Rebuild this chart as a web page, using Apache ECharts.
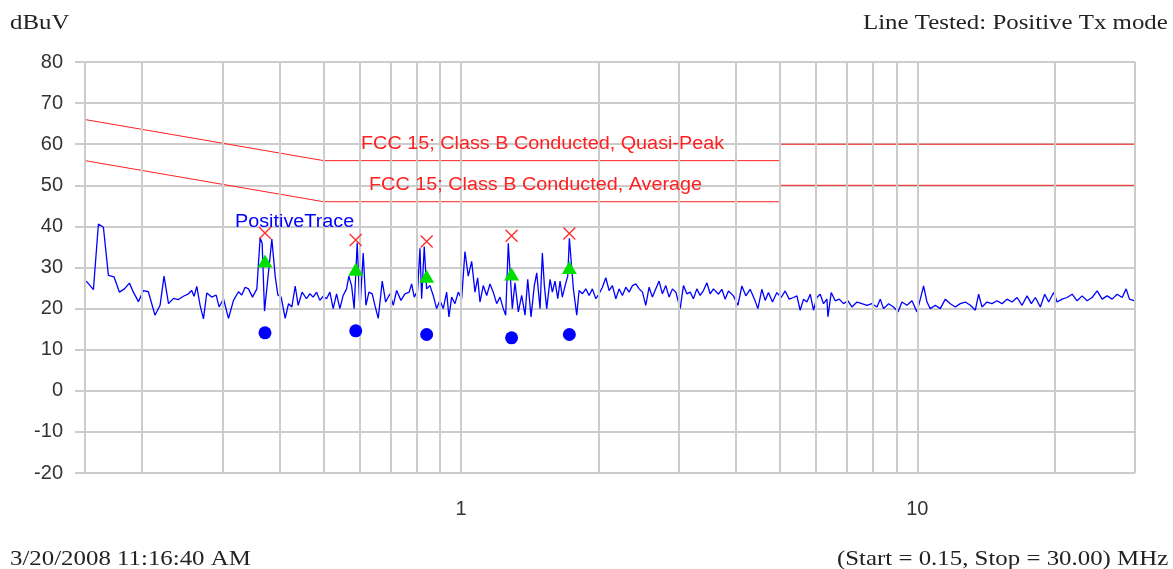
<!DOCTYPE html>
<html>
<head>
<meta charset="utf-8">
<script src="https://cdn.jsdelivr.net/npm/echarts@6/dist/echarts.min.js"></script>
<style>
  html, body { margin: 0; padding: 0; background: #fff; }
  #main { width: 1173px; height: 569px; }
</style>
</head>
<body>
<div id="main"></div>
<script>
// 扫描曲线 (MHz, dBuV)
var traceFreq = [0.151,0.1565,0.1605,0.1646,0.1688,0.1737,0.1785,0.183,0.1877,0.1915,0.1964,0.2014,0.2065,0.2135,0.2191,0.2235,0.2286,0.2344,0.2404,0.2465,0.2528,0.257,0.2601,0.2637,0.2681,0.2727,0.2773,0.2844,0.2907,0.2951,0.3017,0.3094,0.3173,0.3254,0.3309,0.3365,0.3423,0.3493,0.357,0.363,0.3667,0.3711,0.3851,0.3916,0.397,0.4036,0.4119,0.4189,0.4261,0.4332,0.4398,0.4487,0.4587,0.4665,0.4743,0.4826,0.4906,0.4989,0.5076,0.5161,0.5248,0.5338,0.5428,0.5519,0.5614,0.568,0.5758,0.5834,0.5924,0.6005,0.6106,0.6191,0.6285,0.6391,0.6478,0.6587,0.6722,0.6839,0.6989,0.7106,0.7228,0.7387,0.7538,0.7702,0.7796,0.79,0.8035,0.8131,0.8201,0.8309,0.8409,0.8551,0.8694,0.8844,0.8993,0.9146,0.9303,0.9412,0.9541,0.9701,0.9865,1.0035,1.0204,1.0375,1.0555,1.0732,1.088,1.1007,1.1191,1.1386,1.1577,1.1771,1.1975,1.2176,1.2382,1.2531,1.2697,1.2808,1.2957,1.3134,1.3357,1.3586,1.3817,1.4006,1.4241,1.4479,1.4657,1.4902,1.5078,1.5232,1.5415,1.5677,1.5859,1.6076,1.63,1.6489,1.668,1.6912,1.714,1.728,1.7428,1.7634,1.7937,1.815,1.845,1.8776,1.909,1.941,1.9748,2.0078,2.0417,2.0768,2.112,2.1473,2.1848,2.2213,2.2584,2.2978,2.3362,2.3758,2.4166,2.4576,2.4988,2.541,2.5841,2.6274,2.673,2.7178,2.7632,2.8114,2.8586,2.907,2.9571,3.0224,3.073,3.1261,3.1783,3.2316,3.2879,3.3429,3.3995,3.4581,3.5168,3.5756,3.6672,3.7297,3.7921,3.8564,3.9545,4.0439,4.1266,4.2102,4.3033,4.3975,4.474,4.5646,4.6416,4.7193,4.816,4.9237,5.0326,5.1345,5.2396,5.3543,5.4476,5.5387,5.6326,5.7295,5.8265,5.924,6.0256,6.1278,6.2304,6.3387,6.3709,6.4774,6.61,6.744,6.893,7.0469,7.1913,7.376,7.5634,7.7572,7.956,8.158,8.2964,8.4353,8.6515,8.8716,9.072,9.2556,9.493,9.7363,9.9842,10.153,10.323,10.502,10.678,10.953,11.23,11.519,11.814,12.115,12.425,12.742,13.069,13.403,13.627,13.862,14.215,14.579,14.952,15.335,15.728,16.13,16.543,16.966,17.4,17.783,18.146,18.609,19.02,19.408,19.904,20.25,20.766,21.298,21.843,22.401,22.974,23.562,24.164,24.782,25.416,26.066,26.73,27.415,28.117,28.69,29.17,29.96];
var traceLevel = [26.7,24.6,40.6,39.8,28.1,27.7,24.0,24.8,26.2,24.0,21.7,24.4,24.1,18.4,20.8,27.9,21.2,22.5,22.2,23.0,23.6,24.4,23.0,25.4,20.8,17.5,23.8,22.8,23.3,20.4,22.4,17.6,22.0,24.1,23.3,25.2,24.8,22.8,24.8,37.2,35.9,19.4,36.9,27.9,23.3,22.8,17.6,21.2,20.4,25.5,20.8,24.0,22.4,23.6,22.8,24.0,22.0,23.0,22.4,24.0,20.0,23.6,20.0,23.2,24.8,27.9,25.6,20.0,36.0,19.6,33.5,20.8,24.0,23.6,20.8,17.6,26.7,21.6,23.6,20.8,24.4,22.0,23.6,24.0,26.0,22.8,24.4,34.7,22.4,35.1,24.8,25.6,23.2,20.0,22.0,20.0,24.0,18.0,22.8,21.2,24.0,22.4,33.9,27.9,31.5,24.0,27.5,21.6,25.6,23.2,26.0,24.0,21.2,22.8,20.0,18.4,35.9,36.3,20.0,26.3,19.2,23.2,18.4,27.1,18.0,25.6,28.7,20.0,33.5,25.6,20.0,27.1,24.0,26.7,22.4,26.7,22.8,25.6,27.9,37.1,36.7,24.8,18.4,24.4,23.6,24.8,23.2,24.8,22.4,23.6,25.2,27.5,24.4,25.6,22.4,24.8,23.2,25.2,24.0,25.6,26.0,24.8,24.0,20.8,25.2,22.8,24.8,26.7,23.6,25.6,22.8,24.8,24.0,20.0,25.6,23.6,24.0,22.4,24.8,23.2,24.4,26.3,23.6,24.8,23.5,24.7,22.3,24.3,23.1,20.8,25.5,23.1,24.7,22.3,20.0,24.7,22.0,23.9,21.6,23.9,22.7,24.3,22.3,22.7,23.1,19.6,22.3,21.6,23.5,19.6,22.7,23.5,21.2,22.3,18.0,23.9,21.9,22.3,21.2,21.9,20.4,21.6,21.2,20.8,21.2,20.4,22.3,20.0,21.2,20.4,19.2,21.6,20.8,21.9,19.2,22.3,25.5,21.6,20.0,20.8,20.0,22.3,21.2,20.4,21.2,21.6,20.8,19.6,23.5,20.4,21.6,21.2,21.9,21.2,22.3,21.6,22.7,20.8,23.1,21.2,22.7,20.4,23.5,21.6,23.9,21.6,22.3,22.7,23.5,21.9,23.1,21.9,22.7,24.3,22.3,23.1,22.3,23.5,22.7,24.8,22.3,21.9];

// 限值线 FCC 15 Class B
var qpLimitFreq = [0.15, 0.5, 5, 5, 30];
var qpLimitLevel = [66, 56, 56, 60, 60];
var avLimitFreq = [0.15, 0.5, 5, 5, 30];
var avLimitLevel = [56, 46, 46, 50, 50];

// 测量点
var markFreq = [0.372, 0.588, 0.841, 1.291, 1.728];
var markQp = [38.4, 36.7, 36.3, 37.7, 38.3];
var markAvg = [31.6, 29.6, 27.9, 28.4, 30.0];
var markDot = [14.1, 14.6, 13.7, 12.9, 13.7];

// 网格线 / 刻度
var gridFreqs = [0.15,0.2,0.3,0.4,0.5,0.6,0.7,0.8,0.9,1,2,3,4,5,6,7,8,9,10,20,30];
var xLabelValues = [1, 10];

function pairs(xs, ys) {
	var out = [];
	for (let i = 0; i < xs.length; i++) {
		out.push([xs[i], ys[i]]);
	}
	return out;
}

var gridColor = '#cccccc';
var sans = '"Liberation Sans", Arial, sans-serif';
var serif = '"Liberation Serif", "Times New Roman", serif';

// 文字稍微横向拉宽, 跟原图一样
function txt(text, left, top, font, fill, sx) {
	return {
		type: 'text', left: left, top: top, z: 100, scaleX: sx,
		style: {text: text, font: font, fill: fill}
	};
}

var myChart = echarts.init(document.getElementById('main'), null, {renderer: 'canvas'});
var option = {
	backgroundColor: '#fff',
	animation: false,
	grid: {
		left: 85,
		right: 38,
		top: 62,
		bottom: 96
	},
	xAxis: {
		type: 'log',
		logBase: 10,
		min: 0.15,
		max: 30,
		axisLine: {show: false},
		splitLine: {show: false},
		axisTick: {
			show: true,
			customValues: xLabelValues,
			length: 17,
			lineStyle: {color: gridColor, width: 2}
		},
		axisLabel: {
			customValues: xLabelValues,
			margin: 26,
			fontFamily: sans,
			fontSize: 20,
			color: '#333',
			formatter: function(v) {
				return String(Math.round(v));
			}
		}
	},
	yAxis: {
		type: 'value',
		min: -20,
		max: 80,
		interval: 10,
		axisLine: {show: false},
		axisTick: {
			show: true,
			length: 10,
			lineStyle: {color: gridColor, width: 2}
		},
		axisLabel: {
			margin: 22,
			fontFamily: sans,
			fontSize: 20,
			color: '#333'
		},
		splitLine: {
			show: true,
			lineStyle: {color: gridColor, width: 2}
		}
	},
	graphic: [
		txt('dBuV', 10, 12, '22px ' + serif, '#222', 1.13),
		txt('Line Tested: Positive Tx mode', 863, 12, '22px ' + serif, '#222', 1.13),
		txt('3/20/2008 11:16:40 AM', 10, 548, '22px ' + serif, '#222', 1.13),
		txt('(Start = 0.15, Stop = 30.00) MHz', 837, 548, '22px ' + serif, '#222', 1.13),
		txt('FCC 15; Class B Conducted, Quasi-Peak', 361, 135, '18px ' + sans, '#ff2020', 1.1),
		txt('FCC 15; Class B Conducted, Average', 369, 176, '18px ' + sans, '#ff2020', 1.1),
		txt('PositiveTrace', 235, 213, '18px ' + sans, '#0000ff', 1.1)
	],
	series: [{
		name: 'grid',
		type: 'line',
		data: [],
		silent: true,
		z: 0,
		markLine: {
			silent: true,
			symbol: 'none',
			label: {show: false},
			lineStyle: {color: gridColor, width: 2, type: 'solid'},
			data: gridFreqs.map(function(f) { return {xAxis: f}; })
		}
	}, {
		name: 'QP limit',
		type: 'line',
		data: pairs(qpLimitFreq, qpLimitLevel),
		showSymbol: false,
		lineStyle: {color: '#ff2020', width: 1},
		z: 3
	}, {
		name: 'AV limit',
		type: 'line',
		data: pairs(avLimitFreq, avLimitLevel),
		showSymbol: false,
		lineStyle: {color: '#ff2020', width: 1},
		z: 3
	}, {
		name: 'PositiveTrace',
		type: 'line',
		data: pairs(traceFreq, traceLevel),
		showSymbol: false,
		lineStyle: {color: '#0000ff', width: 1.3},
		z: 4
	}, {
		name: 'QP',
		type: 'scatter',
		data: pairs(markFreq, markQp),
		symbol: 'path://M0,0 L10,10 M10,0 L0,10',
		symbolSize: 12,
		itemStyle: {color: 'transparent', borderColor: '#ff3030', borderWidth: 1.4, opacity: 1},
		z: 5
	}, {
		name: 'AVG',
		type: 'scatter',
		data: pairs(markFreq, markAvg),
		symbol: 'triangle',
		symbolSize: [15, 13],
		itemStyle: {color: '#00e000', opacity: 1},
		z: 5
	}, {
		name: 'DOT',
		type: 'scatter',
		data: pairs(markFreq, markDot),
		symbol: 'circle',
		symbolSize: 13,
		itemStyle: {color: '#0000ff', opacity: 1},
		z: 5
	}]
};
myChart.setOption(option);
</script>
</body>
</html>
